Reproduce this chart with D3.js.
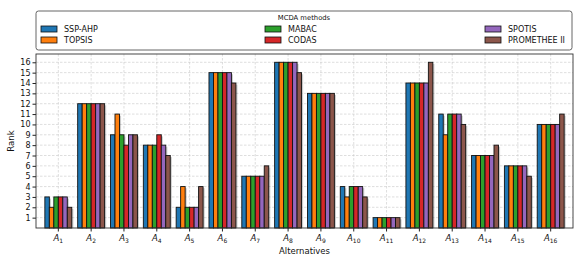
<!DOCTYPE html>
<html>
<head>
<meta charset="utf-8">
<script src="https://cdn.jsdelivr.net/npm/d3@7"></script>
<style>
	body { margin: 0; background: #fff; }
	svg { font-family: "DejaVu Sans", sans-serif; display: block; }
</style>
</head>
<body>
<div id="chart"></div>
<script>
// alternatives on the x axis
var alternatives = ["1", "2", "3", "4", "5", "6", "7", "8", "9", "10", "11", "12", "13", "14", "15", "16"];

// methods, in legend order
var methods = ["SSP-AHP", "TOPSIS", "MABAC", "CODAS", "SPOTIS", "PROMETHEE II"];

// ranks per method, one entry per alternative
var sspAhp    = [3, 12, 9, 8, 2, 15, 5, 16, 13, 4, 1, 14, 11, 7, 6, 10];
var topsis    = [2, 12, 11, 8, 4, 15, 5, 16, 13, 3, 1, 14, 9, 7, 6, 10];
var mabac     = [3, 12, 9, 8, 2, 15, 5, 16, 13, 4, 1, 14, 11, 7, 6, 10];
var codas     = [3, 12, 8, 9, 2, 15, 5, 16, 13, 4, 1, 14, 11, 7, 6, 10];
var spotis    = [3, 12, 9, 8, 2, 15, 5, 16, 13, 4, 1, 14, 11, 7, 6, 10];
var promethee = [2, 12, 9, 7, 4, 14, 6, 15, 13, 3, 1, 16, 10, 8, 5, 11];

// rank tick labels
var rankTicks = [1, 2, 3, 4, 5, 6, 7, 8, 9, 10, 11, 12, 13, 14, 15, 16];

var series = [sspAhp, topsis, mabac, codas, spotis, promethee];
var colors = ["#1f77b4", "#ff7f0e", "#2ca02c", "#d62728", "#9467bd", "#8c564b"];

var width = 581, height = 264;
var plot = { left: 36, right: 573, top: 54, bottom: 228 };

var svg = d3.select("#chart").append("svg")
	.attr("width", width)
	.attr("height", height);

// scales
var x0 = d3.scaleBand()
	.domain(alternatives)
	.range([plot.left, plot.right])
	.paddingInner(0.18)
	.paddingOuter(0.27);

var x1 = d3.scaleBand()
	.domain(methods)
	.range([0, x0.bandwidth()]);

var y = d3.scaleLinear()
	.domain([0, 16.8])
	.range([plot.bottom, plot.top]);

var color = d3.scaleOrdinal().domain(methods).range(colors);

// grid lines
var grid = svg.append("g");
grid.selectAll("line.h")
	.data(rankTicks)
	.enter().append("line")
	.attr("x1", plot.left).attr("x2", plot.right)
	.attr("y1", function(d) { return y(d); })
	.attr("y2", function(d) { return y(d); })
	.attr("stroke", "#c8c8c8")
	.attr("stroke-width", 0.6)
	.attr("stroke-dasharray", "2.5,1.5");
grid.selectAll("line.v")
	.data(alternatives)
	.enter().append("line")
	.attr("x1", function(d) { return x0(d) + x0.bandwidth() / 2; })
	.attr("x2", function(d) { return x0(d) + x0.bandwidth() / 2; })
	.attr("y1", plot.top).attr("y2", plot.bottom)
	.attr("stroke", "#c8c8c8")
	.attr("stroke-width", 0.6)
	.attr("stroke-dasharray", "2.5,1.5");

// flatten into bar records
var bars = [];
alternatives.forEach(function(a, i) {
	methods.forEach(function(m, j) {
		bars.push({ alt: a, method: m, value: series[j][i] });
	});
});

// shadows first, then bars on top
svg.append("g").selectAll("rect")
	.data(bars)
	.enter().append("rect")
	.attr("x", function(d) { return x0(d.alt) + x1(d.method) + 1.6; })
	.attr("y", function(d) { return y(d.value) + 1.6; })
	.attr("width", x1.bandwidth())
	.attr("height", function(d) { return plot.bottom - y(d.value) - 1.6; })
	.attr("fill", "#000")
	.attr("opacity", 0.2);

svg.append("g").selectAll("rect")
	.data(bars)
	.enter().append("rect")
	.attr("x", function(d) { return x0(d.alt) + x1(d.method); })
	.attr("y", function(d) { return y(d.value); })
	.attr("width", x1.bandwidth())
	.attr("height", function(d) { return plot.bottom - y(d.value); })
	.attr("fill", function(d) { return color(d.method); })
	.attr("stroke", "#111")
	.attr("stroke-width", 0.9);

// axes
var yAxis = svg.append("g")
	.attr("transform", "translate(" + plot.left + ",0)")
	.call(d3.axisLeft(y).tickValues(rankTicks).tickSize(3.5).tickPadding(2));
yAxis.select(".domain").remove();
yAxis.selectAll("text").attr("font-size", 8).attr("fill", "#111")
	.attr("font-family", "DejaVu Sans");
yAxis.selectAll("line").attr("stroke", "#222");

var xAxis = svg.append("g")
	.attr("transform", "translate(0," + plot.bottom + ")")
	.call(d3.axisBottom(x0).tickSize(3.5).tickFormat(""));
xAxis.select(".domain").remove();
xAxis.selectAll("line").attr("stroke", "#222");

// subscripted tick labels
var xLabels = svg.append("g").selectAll("text")
	.data(alternatives)
	.enter().append("text")
	.attr("x", function(d) { return x0(d) + x0.bandwidth() / 2; })
	.attr("y", 241)
	.attr("text-anchor", "middle")
	.attr("font-size", 8.5)
	.attr("fill", "#111");
xLabels.append("tspan").attr("font-style", "italic").text("A");
xLabels.append("tspan")
	.attr("font-size", 6)
	.attr("dy", 2)
	.text(function(d) { return d; });

// frame
svg.append("rect")
	.attr("x", plot.left).attr("y", plot.top)
	.attr("width", plot.right - plot.left)
	.attr("height", plot.bottom - plot.top)
	.attr("fill", "none")
	.attr("stroke", "#333")
	.attr("stroke-width", 0.9);

// axis titles
svg.append("text")
	.attr("x", (plot.left + plot.right) / 2)
	.attr("y", 254)
	.attr("text-anchor", "middle")
	.attr("font-size", 8.5)
	.attr("fill", "#111")
	.text("Alternatives");

svg.append("text")
	.attr("transform", "translate(14," + ((plot.top + plot.bottom) / 2) + ") rotate(-90)")
	.attr("text-anchor", "middle")
	.attr("font-size", 8.5)
	.attr("fill", "#111")
	.text("Rank");

// legend box
var legend = svg.append("g");
legend.append("rect")
	.attr("x", 36).attr("y", 11)
	.attr("width", 536).attr("height", 39)
	.attr("rx", 2.5)
	.attr("fill", "#fff")
	.attr("stroke", "#555")
	.attr("stroke-width", 0.9);

legend.append("text")
	.attr("x", 304)
	.attr("y", 19.5)
	.attr("text-anchor", "middle")
	.attr("font-size", 6.8)
	.attr("fill", "#111")
	.text("MCDA methods");

// three columns, two rows
var colX = [41, 265, 485];
var rowY = [29, 40];
var items = legend.selectAll("g.item")
	.data(methods)
	.enter().append("g")
	.attr("transform", function(d, i) {
		return "translate(" + colX[Math.floor(i / 2)] + "," + rowY[i % 2] + ")";
	});
items.append("rect")
	.attr("x", 0).attr("y", -3)
	.attr("width", 16).attr("height", 6)
	.attr("fill", function(d) { return color(d); })
	.attr("stroke", "#111")
	.attr("stroke-width", 0.8);
items.append("text")
	.attr("x", 23)
	.attr("y", 3)
	.attr("font-size", 8)
	.attr("fill", "#111")
	.text(function(d) { return d; });
</script>
</body>
</html>
